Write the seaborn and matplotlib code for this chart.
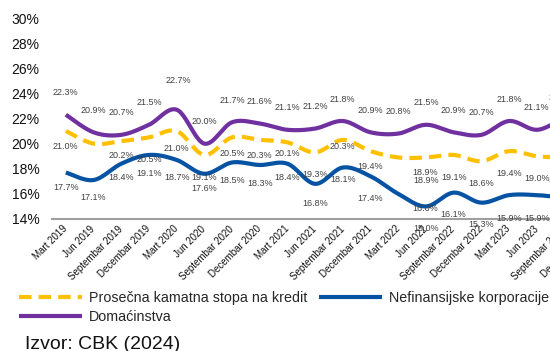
import numpy as np
import pandas as pd
import matplotlib
matplotlib.use("Agg")
import matplotlib.pyplot as plt
import seaborn as sns

# Quarterly interest rates on loans (%)
quarters = ["Mart 2019", "Jun 2019", "Septembar 2019", "Decembar 2019",
            "Mart 2020", "Jun 2020", "Septembar 2020", "Decembar 2020",
            "Mart 2021", "Jun 2021", "Septembar 2021", "Decembar 2021",
            "Mart 2022", "Jun 2022", "Septembar 2022", "Decembar 2022",
            "Mart 2023", "Jun 2023", "Septembar 2023", "Decembar 2023"]

prosecna = [21.0, 20.0, 20.2, 20.5, 21.0, 19.1, 20.5, 20.3, 20.1, 19.3,
            20.3, 19.4, 18.9, 18.9, 19.1, 18.6, 19.4, 19.0, 18.9, 18.9]
nefinansijske = [17.7, 17.1, 18.4, 19.1, 18.7, 17.6, 18.5, 18.3, 18.4, 16.8,
                 18.1, 17.4, 16.0, 15.0, 16.1, 15.3, 15.9, 15.9, 15.7, 15.6]
domacinstva = [22.3, 20.9, 20.7, 21.5, 22.7, 20.0, 21.7, 21.6, 21.1, 21.2,
               21.8, 20.9, 20.8, 21.5, 20.9, 20.7, 21.8, 21.1, 21.9, 21.7]

series_names = ["Prosečna kamatna stopa na kredit",
                "Nefinansijske korporacije",
                "Domaćinstva"]

# label placement (dx, dy in screen pixels; dy > 0 means below the point)
lab_prosecna = [(0, 15), None, (0, 14), (0, 22), (0, 17), (0, 23), (0, 16),
                (0, 16), (0, 11), (0, 22), (0, 7), (0, 15), (27, 15), (0, 23),
                (0, 23), (0, 22), (0, 22), (0, 22), (-3, 22), (0, 22)]
lab_nefin = [(0, 15), (0, 17), (0, 14), (0, 19), (0, 18), (0, 15), (0, 18),
             (0, 19), (0, 14), (0, 20), (0, 12), (0, 22), (27, 15), (0, 22),
             (0, 22), (0, 22), (0, 23), (0, 23), (-3, 22), (0, 22)]
lab_domac = [(0, -22)] * 4 + [(2, -29)] + [(0, -22)] * 13 + [(-3, -22), (0, -22)]

colors = {"y": "#FFC000", "b": "#0652A3", "p": "#7030A0"}


def smooth(values, n=24):
    """Bezier smoothing through every point (Catmull-Rom style)."""
    y = np.asarray(values, float)
    pts = np.column_stack([np.arange(len(y), dtype=float), y])
    ext = np.vstack([pts[0], pts, pts[-1]])
    t = np.linspace(0, 1, n, endpoint=False)[:, None]
    out = []
    for i in range(len(y) - 1):
        p0, p1, p2, p3 = ext[i], ext[i + 1], ext[i + 2], ext[i + 3]
        c1 = p1 + (p2 - p0) / 6
        c2 = p2 - (p3 - p1) / 6
        out.append((1 - t) ** 3 * p1 + 3 * (1 - t) ** 2 * t * c1
                   + 3 * (1 - t) * t ** 2 * c2 + t ** 3 * p2)
    out.append(pts[-1:])
    arr = np.vstack(out)
    return pd.DataFrame({"x": arr[:, 0], "y": arr[:, 1]})


sns.set_theme(style="white")
plt.rcParams["font.family"] = ["Liberation Sans", "DejaVu Sans"]

W, H = 550, 351
fig = plt.figure(figsize=(W / 100, H / 100), dpi=100)
ax = fig.add_axes([52 / W, 132 / H, 554 / W, 201 / H])

handles = []
for vals, col, name in [(prosecna, colors["y"], series_names[0]),
                        (nefinansijske, colors["b"], series_names[1]),
                        (domacinstva, colors["p"], series_names[2])]:
    sns.lineplot(data=smooth(vals), x="x", y="y", sort=False, estimator=None,
                 color=col, linewidth=3.0, ax=ax, label=name)
    line = ax.lines[-1]
    line.set_solid_capstyle("butt")
    handles.append(line)
handles[0].set_dashes((3.0, 1.7))

for vals, offs in [(prosecna, lab_prosecna), (nefinansijske, lab_nefin),
                   (domacinstva, lab_domac)]:
    for i, (v, o) in enumerate(zip(vals, offs)):
        if o is None:
            continue
        ax.annotate(f"{v:.1f}%", xy=(i, v), xytext=(o[0], -o[1]),
                    textcoords="offset pixels", ha="center", va="center",
                    fontsize=6.5, color="#404040", annotation_clip=False)

ax.set_xlim(-0.5, len(quarters) - 0.5)
ax.set_ylim(14, 30)
ax.set_yticks(np.arange(14, 31, 2))
ax.set_yticklabels([f"{t}%" for t in range(14, 31, 2)], fontsize=10, color="#111111")
ax.set_xticks(range(len(quarters)))
ax.set_xticklabels(quarters, rotation=45, ha="right", va="center",
                   rotation_mode="anchor", fontsize=7, color="#111111")
ax.tick_params(axis="x", length=0, pad=6)
ax.tick_params(axis="y", length=0, pad=9)
ax.set_xlabel("")
ax.set_ylabel("")
for s in ["left", "right", "top"]:
    ax.spines[s].set_visible(False)
ax.spines["bottom"].set_color("#A0A0A0")
ax.spines["bottom"].set_linewidth(1.5)
ax.grid(False)

ax.legend(handles=[handles[0], handles[2], handles[1]],
          labels=[series_names[0], series_names[2], series_names[1]],
          ncol=2, loc="upper left", bbox_to_anchor=(19 / W, 60 / H),
          bbox_transform=fig.transFigure, frameon=False, fontsize=10.3,
          handlelength=4.4, handletextpad=0.5, columnspacing=0.8,
          labelspacing=0.38, borderpad=0, borderaxespad=0)

fig.text(25 / W, 2 / H, "Izvor: CBK (2024)", fontsize=14, va="baseline",
         color="#111111")

fig.savefig("out.png", dpi=100)
